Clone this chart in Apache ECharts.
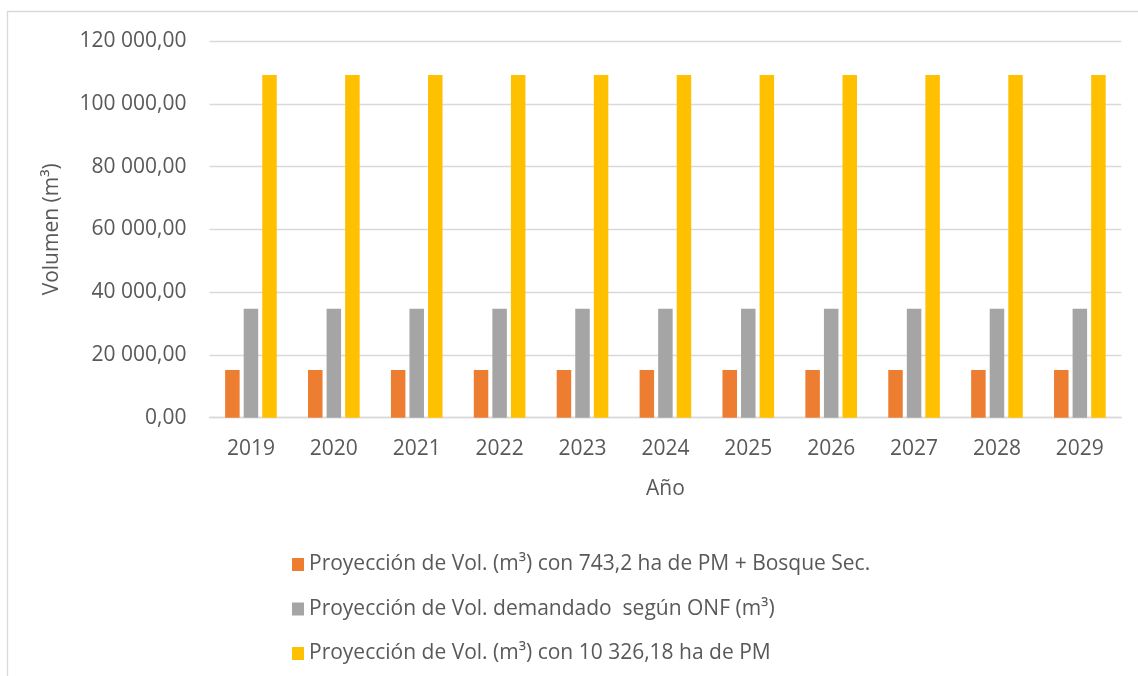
<!DOCTYPE html>
<html>
<head>
<meta charset="utf-8">
<script src="https://cdn.jsdelivr.net/npm/echarts@6/dist/echarts.min.js"></script>
<style>
  html, body { margin: 0; padding: 0; background: #fff; }
  #chart { width: 1138px; height: 676px; }
</style>
</head>
<body>
<div id="chart"></div>
<script>
// datos
var years = ["2019", "2020", "2021", "2022", "2023", "2024", "2025", "2026", "2027", "2028", "2029"];
var volPMBosque = [15200, 15200, 15200, 15200, 15200, 15200, 15200, 15200, 15200, 15200, 15200];
var volONF = [34700, 34700, 34700, 34700, 34700, 34700, 34700, 34700, 34700, 34700, 34700];
var volPM = [109200, 109200, 109200, 109200, 109200, 109200, 109200, 109200, 109200, 109200, 109200];
var seriesNames = [
	"Proyección de Vol. (m³) con 743,2 ha de PM + Bosque Sec.",
	"Proyección de Vol. demandado  según ONF (m³)",
	"Proyección de Vol. (m³) con 10 326,18 ha de PM"
];

var fontFam = "Open Sans";
var txtColor = "#595959";

// formato 120 000,00
function fmtNum(v) {
	var s = v.toFixed(2).split(".");
	var ent = s[0].replace(/\B(?=(\d{3})+(?!\d))/g, " ");
	return ent + "," + s[1];
}

function barSerie(name, data, color) {
	return {
		name: name,
		type: "bar",
		data: data,
		barWidth: 14.5,
		barGap: "28%",
		itemStyle: { color: color },
		emphasis: { disabled: true }
	};
}

var myChart = echarts.init(document.getElementById("chart"));

var option = {
	animation: false,
	textStyle: { fontFamily: fontFam },
	graphic: [{
		type: "rect",
		shape: { x: 7.5, y: 11.5, width: 1140, height: 680 },
		style: { fill: null, stroke: "#D9D9D9", lineWidth: 1.3 },
		silent: true
	}],
	grid: { left: 209.5, right: 16.7, top: 41, bottom: 258.3 },
	legend: {
		orient: "vertical",
		left: 287,
		top: 549,
		itemWidth: 12,
		itemHeight: 13,
		itemGap: 23.5,
		icon: "rect",
		textStyle: { fontFamily: fontFam, fontSize: 21, color: txtColor, lineHeight: 21, padding: [0, 0, 0, 0] },
		data: seriesNames
	},
	xAxis: {
		type: "category",
		data: years,
		name: "Año",
		nameLocation: "middle",
		nameGap: 61,
		nameTextStyle: { fontFamily: fontFam, fontSize: 21, color: txtColor },
		axisLine: { lineStyle: { color: "#D9D9D9", width: 1.3 } },
		axisTick: { show: false },
		axisLabel: { fontFamily: fontFam, fontSize: 21, color: txtColor, margin: 21 }
	},
	yAxis: {
		type: "value",
		min: 0,
		max: 120000,
		interval: 20000,
		name: "Volumen (m³)",
		nameLocation: "middle",
		nameGap: 147,
		nameTextStyle: { fontFamily: fontFam, fontSize: 21, color: txtColor },
		axisLine: { show: false },
		axisTick: { show: false },
		splitLine: { lineStyle: { color: "#D9D9D9", width: 1.3 } },
		axisLabel: {
			fontFamily: fontFam, fontSize: 21, color: txtColor, margin: 23,
			formatter: function(v) { return fmtNum(v); }
		}
	},
	series: [
		barSerie(seriesNames[0], volPMBosque, "#ED7D31"),
		barSerie(seriesNames[1], volONF, "#A5A5A5"),
		barSerie(seriesNames[2], volPM, "#FFC000")
	]
};

myChart.setOption(option);
</script>
</body>
</html>
